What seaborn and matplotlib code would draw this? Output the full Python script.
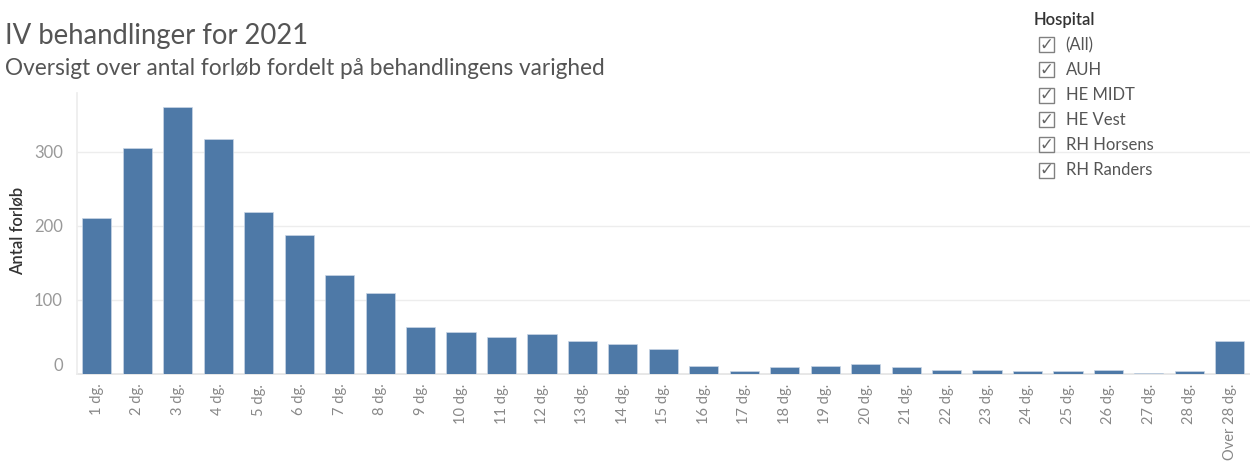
import numpy as np
import pandas as pd
import matplotlib
matplotlib.use("Agg")
import matplotlib.pyplot as plt
import seaborn as sns
from matplotlib.patches import Rectangle

# data
days = [f"{i} dg." for i in range(1, 29)] + ["Over 28 dg."]
counts = [210, 305, 360, 317, 218, 187, 133, 109, 64, 57, 50, 54, 45, 40, 34,
          11, 4, 9, 11, 13, 9, 5, 5, 4, 4, 5, 2, 4, 44]
hospitals = ["(All)", "AUH", "HE MIDT", "HE Vest", "RH Horsens", "RH Randers"]
y_ticks = [0, 100, 200, 300]

df = pd.DataFrame({"dage": days, "forloeb": counts})

sns.set_theme(style="white")
plt.rcParams["font.family"] = ["Lato", "DejaVu Sans"]

W, H = 1250, 461
fig = plt.figure(figsize=(W / 100, H / 100), dpi=100)
ax = fig.add_axes([76.7 / W, 1 - 374 / H, 1 - 76.7 / W, (374 - 93) / H])

sns.barplot(data=df, x="dage", y="forloeb", color="#4e79a7", saturation=1,
            width=0.72, edgecolor="#c9d6e6", linewidth=0.5, ax=ax)

ax.set_xlim(-0.5, 28.24)
ax.set_ylim(0, 379)
ax.set_yticks(y_ticks)
ax.yaxis.grid(True, color="#ededed", lw=1)
ax.set_axisbelow(True)
for s in ["top", "right"]:
    ax.spines[s].set_visible(False)
ax.spines["left"].set_color("#ededed")
ax.spines["bottom"].set_color("#e4e4e4")
ax.spines["bottom"].set_zorder(0.5)

ax.tick_params(axis="y", length=0, pad=10, labelsize=12, labelcolor="#999999")
ax.tick_params(axis="x", which="major", length=0, pad=7, labelsize=10.5,
               labelcolor="#888888", labelrotation=90)
# little separators between categories
ax.set_xticks(np.arange(len(days) + 1) - 0.5, minor=True)
ax.tick_params(axis="x", which="minor", length=6, color="#e4e4e4", width=1)
ax.get_yticklabels()[0].set_va("bottom")

ax.set_xlabel("")
ax.set_ylabel("Antal forløb", fontsize=12, color="#333333", fontweight="semibold")
ax.yaxis.set_label_coords(-0.0432, 0.509)

# titles
fig.text(5 / W, 1 - 44.3 / H, "IV behandlinger for 2021", fontsize=19.8,
         color="#555555", va="baseline")
fig.text(5 / W, 1 - 75 / H, "Oversigt over antal forløb fordelt på behandlingens varighed",
         fontsize=16.3, color="#555555", va="baseline")

# hospital filter (Tableau checkbox list)
fig.text(1034 / W, 1 - 20 / H, "Hospital", fontsize=12, color="#333333",
         fontweight="semibold", va="center")
for i, h in enumerate(hospitals):
    yc = 45 + 25 * i
    fig.add_artist(Rectangle((1039 / W, 1 - (yc + 7.5) / H), 15 / W, 15 / H,
                             transform=fig.transFigure, fill=False,
                             ec="#808080", lw=1))
    fig.text(1046.5 / W, 1 - yc / H, "✓", fontsize=12, color="#666666",
             ha="center", va="center", family=["DejaVu Sans"])
    fig.text(1065.7 / W, 1 - yc / H, h, fontsize=12, color="#555555",
             va="center")

fig.savefig("out.png", dpi=100)
